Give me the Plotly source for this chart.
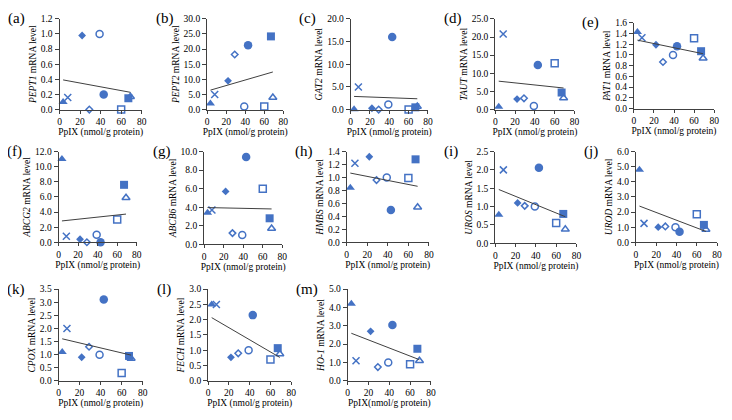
import numpy as np
import plotly.graph_objects as go

# PpIX content of the nine cell lines (nmol/g protein)
ppix = [3.5, 8, 22, 29, 39, 43, 60, 67, 69]
symbols = ["triangle-up", "x-thin-open", "diamond", "diamond-open", "circle-open",
           "circle", "square-open", "square", "triangle-up-open"]
sizes = [8, 7, 6, 5, 7, 8.5, 7, 8, 7]

letters = ["a", "b", "c", "d", "e", "f", "g", "h", "i", "j", "k", "l", "m"]
genes = ["PEPT1", "PEPT2", "GAT2", "TAUT", "PAT1", "ABCG2", "ABCB6", "HMBS",
         "UROS", "UROD", "CPOX", "FECH", "HO-1"]

pept1 = [0.10, 0.16, 0.98, 0.00, 1.00, 0.20, 0.00, 0.15, 0.17]
pept2 = [2.0, 5.0, 9.5, 18.2, 1.0, 21.3, 1.0, 24.2, 4.0]
gat2 = [0.1, 5.0, 0.3, 0.0, 1.1, 16.0, 0.0, 0.5, 0.7]
taut = [0.8, 20.8, 2.9, 3.1, 1.0, 12.3, 12.8, 4.7, 3.2]
pat1 = [1.43, 1.32, 1.19, 0.87, 1.00, 1.16, 1.31, 1.07, 0.94]
abcg2 = [11.0, 0.8, 0.4, 0.0, 1.0, 0.0, 3.0, 7.6, 5.9]
abcb6 = [3.4, 3.7, 5.7, 1.2, 1.0, 9.4, 6.0, 2.8, 1.7]
hmbs = [0.84, 1.22, 1.32, 0.96, 1.00, 0.50, 0.99, 1.28, 0.54]
uros = [0.78, 2.00, 1.10, 1.02, 1.00, 2.06, 0.55, 0.80, 0.38]
urod = [4.8, 1.25, 1.0, 1.05, 1.0, 0.7, 1.85, 1.15, 0.85]
cpox = [1.1, 2.0, 0.9, 1.3, 1.0, 3.1, 0.3, 0.95, 0.85]
fech = [2.5, 2.5, 0.77, 0.9, 1.0, 2.15, 0.7, 1.07, 0.88]
ho1 = [4.2, 1.1, 2.7, 0.75, 1.0, 3.05, 0.9, 1.75, 1.1]
levels = [pept1, pept2, gat2, taut, pat1, abcg2, abcb6, hmbs, uros, urod, cpox, fech, ho1]

y_max = [1.2, 30, 20, 25, 1.6, 12, 10, 1.4, 2.5, 6, 3.5, 3, 5]
y_step = [0.2, 5, 5, 5, 0.2, 2, 2, 0.2, 0.5, 1, 0.5, 0.5, 1]

OFF = 8  # the page body margin shifts the figure by 8px
W, H = 732 - OFF, 420 - OFF
# plot areas in window pixels: (left, right, top, bottom)
boxes = [(58, 141, 14, 107), (207, 284, 14, 107), (352, 430, 14, 107),
         (498, 578, 14, 107), (638, 719, 18, 106),
         (57, 136, 150, 243), (204, 283, 150, 245), (348, 431, 150, 243),
         (498, 580, 150, 244), (640, 722, 150, 243),
         (57, 142, 291, 385), (208, 292, 291, 385), (349, 433, 291, 385)]

blue = "#4472C4"
axc = "#404040"
font = "Liberation Serif, Times New Roman, serif"
fs = 9.5

fig = go.Figure()
layout = {}
annotations = []
for i, (vals, gene) in enumerate(zip(levels, genes)):
    n = "" if i == 0 else str(i + 1)
    x0, x1, t, b = [v - OFF for v in boxes[i]]
    for k in range(len(ppix)):
        fig.add_trace(go.Scatter(
            x=[ppix[k]], y=[vals[k]], mode="markers", xaxis="x" + n, yaxis="y" + n,
            cliponaxis=False, showlegend=False,
            marker=dict(symbol=symbols[k], size=sizes[k], color=blue,
                        line=dict(color=blue, width=1.5 if "open" in symbols[k] else 0))))
    slope, icpt = np.polyfit(ppix, vals, 1)
    xs = np.array([min(ppix), max(ppix)])
    fig.add_trace(go.Scatter(x=xs, y=slope * xs + icpt, mode="lines", xaxis="x" + n,
                             yaxis="y" + n, showlegend=False,
                             line=dict(color=axc, width=1)))
    xtitle = "PpIX(nmol/g protein)" if gene == "HO-1" else "PpIX (nmol/g protein)"
    layout["xaxis" + n] = dict(
        domain=[x0 / W, x1 / W], anchor="y" + n, range=[0, 80], dtick=20,
        showgrid=False, zeroline=False, showline=True, linecolor=axc,
        ticks="outside", ticklen=3, tickcolor=axc,
        tickfont=dict(size=fs, family=font, color="black"),
        title=dict(text=xtitle, font=dict(size=fs, family=font, color="black"), standoff=2))
    layout["yaxis" + n] = dict(
        domain=[1 - b / H, 1 - t / H], anchor="x" + n, range=[0, y_max[i]],
        dtick=y_step[i], tickformat=".1f",
        showgrid=False, zeroline=False, showline=True, linecolor=axc,
        ticks="outside", ticklen=4, tickcolor=axc,
        tickfont=dict(size=fs, family=font, color="black"),
        title=dict(text="<i>" + gene + "</i> mRNA level",
                   font=dict(size=fs, family=font, color="black"), standoff=2))
    annotations.append(dict(text="(" + letters[i] + ")", x=(x0 - 54) / W, y=1 - t / H,
                            xref="paper", yref="paper", xanchor="left", yanchor="middle",
                            showarrow=False, font=dict(size=15, family=font, color="black")))

fig.update_layout(width=W, height=H, margin=dict(l=0, r=0, t=0, b=0),
                  plot_bgcolor="white", paper_bgcolor="white",
                  annotations=annotations, **layout)
fig.write_html("out.html")
